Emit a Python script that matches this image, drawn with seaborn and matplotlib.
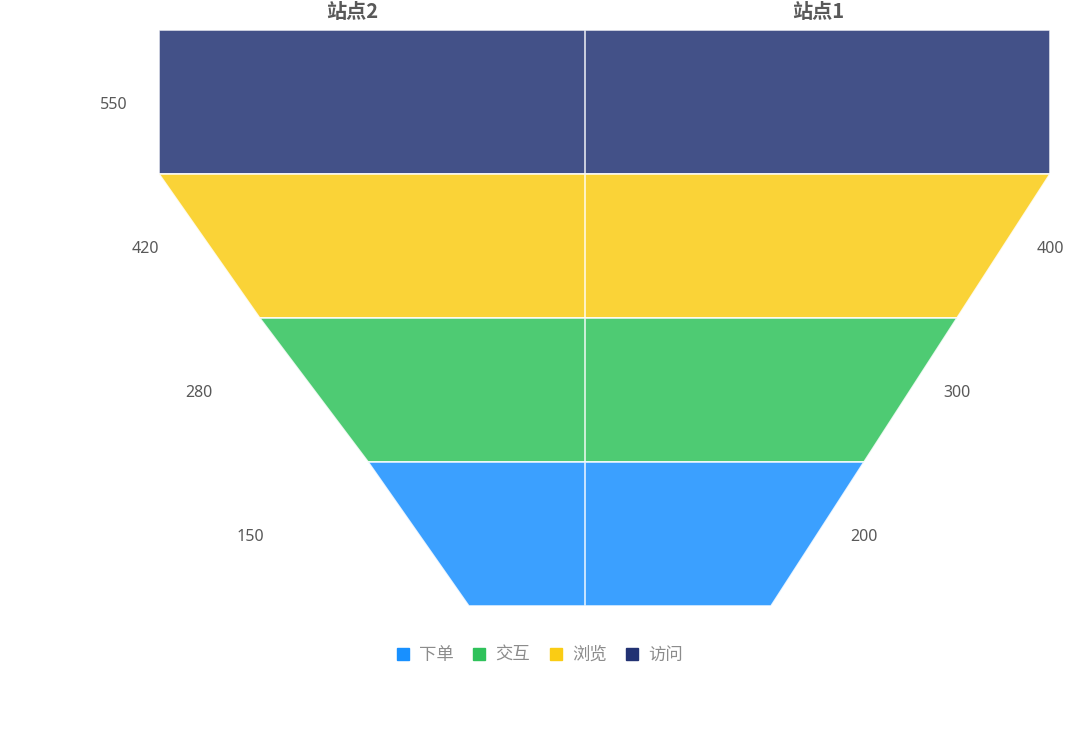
import matplotlib
matplotlib.use("Agg")
import matplotlib.pyplot as plt
from matplotlib.lines import Line2D
import seaborn as sns

# data, top stage first
stages = ['访问', '浏览', '交互', '下单']
site2 = [550, 420, 280, 150]
site1 = [500, 400, 300, 200]
site_names = ['站点2', '站点1']
stage_colors = ['#223273', '#FACC14', '#2FC25B', '#1890FF']

sns.set_theme(style="white")
plt.rcParams['font.family'] = ['Noto Sans CJK SC', 'DejaVu Sans']

W, H = 1081, 750
fig = plt.figure(figsize=(W / 100, H / 100), dpi=100)

# panel boxes in pixels
top_px, bot_px = 30, 606
cx = 585
left_ax = fig.add_axes([159 / W, 1 - bot_px / H, (cx - 159) / W, (bot_px - top_px) / H])
right_ax = fig.add_axes([cx / W, 1 - bot_px / H, (1050 - cx) / W, (bot_px - top_px) / H])

palette = sns.color_palette(stage_colors)
label_color = '#595959'
# extra gap of left labels beyond band top edge (fraction of panel width)
left_pad = [0.106, 0.033, 0.142, 0.277]


def draw_side(ax, values, side):
    vmax = max(values)
    n = len(values)
    for i, v in enumerate(values):
        w_top = (values[i - 1] if i > 0 else v) / vmax
        w_bot = v / vmax
        xs = [0, w_top, w_bot, 0]
        ys = [i, i, i + 1, i + 1]
        ax.fill(xs, ys, color=palette[i], alpha=0.85, ec='white', lw=1.2)
        if side == 'right':
            if i > 0:
                ax.text(w_top, i + 0.52, str(v), ha='center', va='center',
                        fontsize=11.5, family='Noto Sans', color=label_color,
                        clip_on=False)
        else:
            ax.text(w_top + left_pad[i], i + 0.52, str(v), ha='center', va='center',
                    fontsize=11.5, family='Noto Sans', color=label_color,
                    clip_on=False)
    ax.set_ylim(n, 0)
    if side == 'left':
        ax.set_xlim(1, 0)
    else:
        ax.set_xlim(0, 1)
    ax.axis('off')


draw_side(left_ax, site2, 'left')
draw_side(right_ax, site1, 'right')

fig.text(352 / W, 1 - 11 / H, site_names[0], ha='center', va='center',
         fontsize=14.5, fontweight='bold', color='#595959')
fig.text(818 / W, 1 - 11 / H, site_names[1], ha='center', va='center',
         fontsize=14.5, fontweight='bold', color='#595959')

# legend, bottom stage first
order = list(range(len(stages)))[::-1]
handles = [Line2D([], [], marker='s', ls='', markersize=8.5, color=stage_colors[i])
           for i in order]
fig.legend(handles, [stages[i] for i in order], ncol=4, loc='center',
           bbox_to_anchor=(540 / W, 1 - 655 / H), frameon=False,
           fontsize=12.5, labelcolor='#8c8c8c', handlelength=0.7,
           handletextpad=0.6, columnspacing=1.1)

fig.savefig('out.png', dpi=100)
